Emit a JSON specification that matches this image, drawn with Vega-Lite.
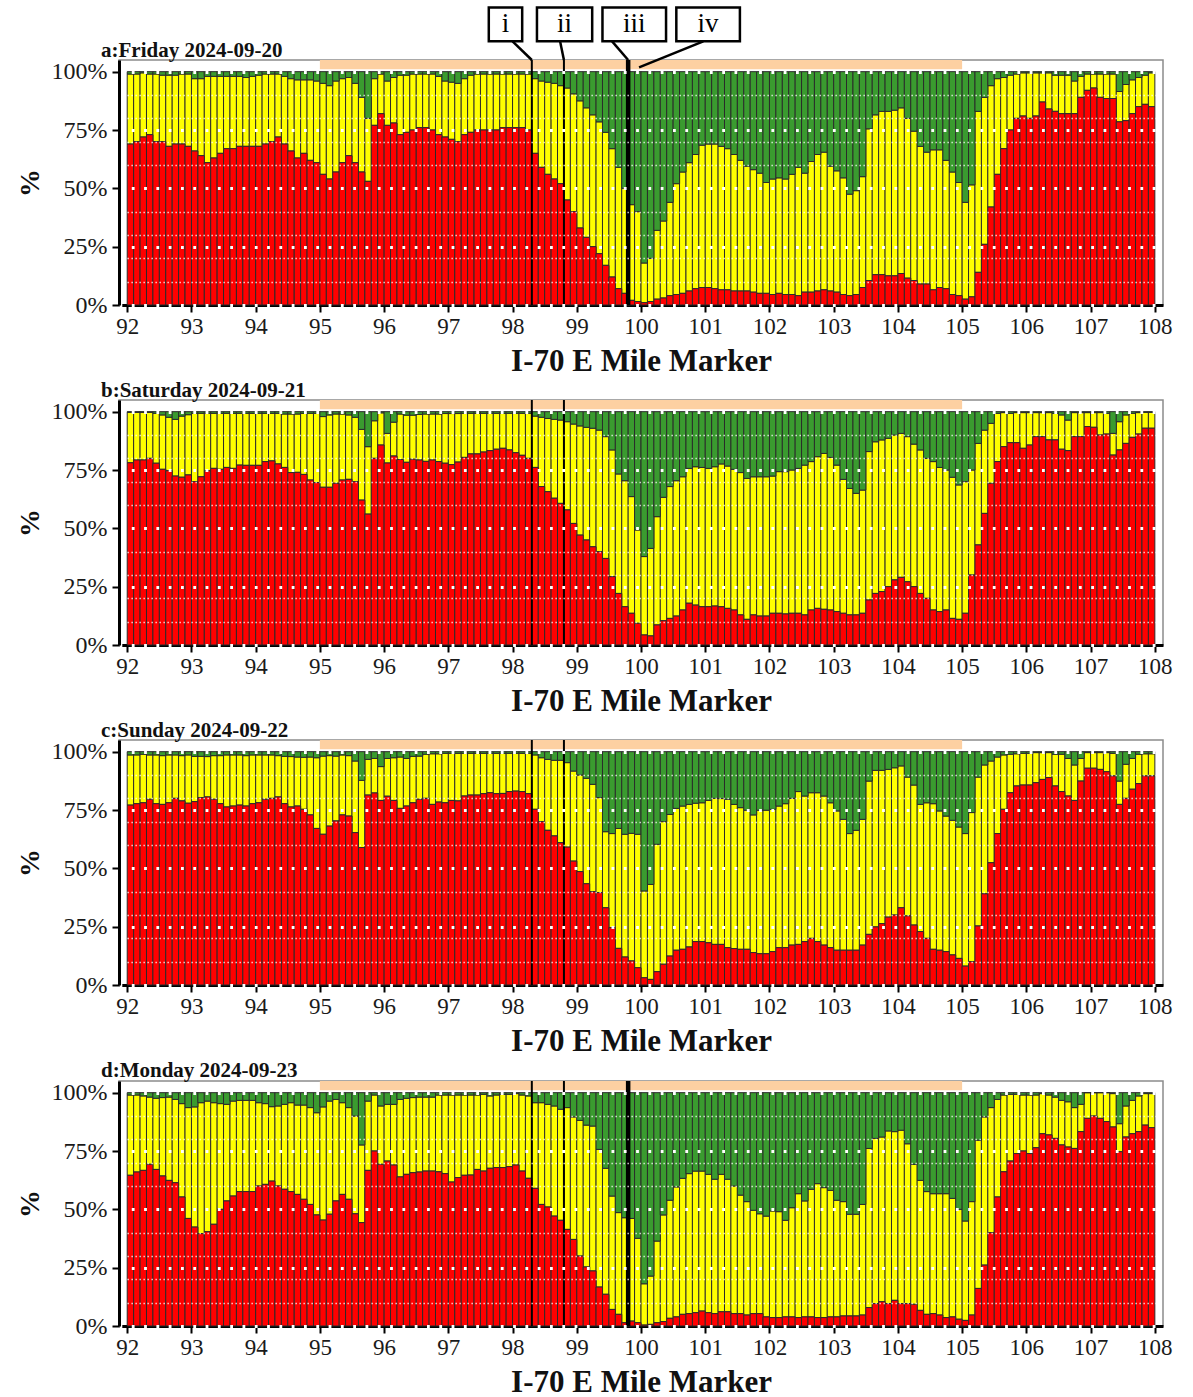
{
  "$schema": "https://vega.github.io/schema/vega-lite/v6.json",
  "padding": {"left": 15, "top": 5, "right": 5, "bottom": 0},
  "spacing": 2,
  "config": {
    "font": "Liberation Serif",
    "view": {"stroke": "#8c8c8c", "strokeWidth": 1.5},
    "axis": {
      "labelFont": "Liberation Serif", "labelColor": "#1a1a1a",
      "titleFont": "Liberation Serif", "titleFontWeight": "bold", "titleColor": "#111111",
      "domainColor": "#000000", "domainWidth": 3, "tickColor": "#000000", "tickWidth": 2, "tickSize": 7
    },
    "axisX": {"labelFontSize": 23, "labelPadding": 3, "titleFontSize": 31, "titlePadding": 8},
    "axisY": {"labelFontSize": 24, "labelPadding": 5, "titleFontSize": 28, "titlePadding": 7, "labelOverlap": false, "tickCount": 20},
    "title": {"anchor": "start", "frame": "group", "font": "Liberation Serif", "fontSize": 21, "fontWeight": "bold", "color": "#111111", "offset": -2, "dx": -18}
  },
  "datasets": {
    "zone": [{"start": 95, "end": 105}],
    "callouts": [
      {"label": "i", "left": 97.63, "right": 98.15, "mid": 97.89, "from": 98.0, "to": 98.3, "tip": 105},
      {"label": "ii", "left": 98.38, "right": 99.24, "mid": 98.81, "from": 98.74, "to": 98.8, "tip": 105},
      {"label": "iii", "left": 99.4, "right": 100.39, "mid": 99.895, "from": 99.55, "to": 99.8, "tip": 105},
      {"label": "iv", "left": 100.55, "right": 101.54, "mid": 101.045, "from": 100.97, "to": 99.97, "tip": 101.8}
    ],
    "fri": [
      {"m":92.0,"r":69,"ry":99},{"m":92.1,"r":70,"ry":99},{"m":92.2,"r":72,"ry":99.5},{"m":92.3,"r":73,"ry":99},{"m":92.4,"r":70,"ry":99},
      {"m":92.5,"r":70,"ry":98.5},{"m":92.6,"r":68,"ry":98.5},{"m":92.7,"r":69,"ry":98.5},{"m":92.8,"r":69,"ry":99},{"m":92.9,"r":68,"ry":99},
      {"m":93.0,"r":66,"ry":97},{"m":93.1,"r":64,"ry":97},{"m":93.2,"r":61,"ry":98},{"m":93.3,"r":63,"ry":98},{"m":93.4,"r":65,"ry":98},
      {"m":93.5,"r":67,"ry":98},{"m":93.6,"r":67,"ry":98},{"m":93.7,"r":68,"ry":98},{"m":93.8,"r":68,"ry":97.5},{"m":93.9,"r":68,"ry":98},
      {"m":94.0,"r":68,"ry":98.5},{"m":94.1,"r":69,"ry":99},{"m":94.2,"r":70,"ry":99},{"m":94.3,"r":72,"ry":99},{"m":94.4,"r":69,"ry":98},
      {"m":94.5,"r":66,"ry":97},{"m":94.6,"r":63,"ry":96.5},{"m":94.7,"r":65,"ry":96.5},{"m":94.8,"r":62,"ry":96.5},{"m":94.9,"r":61,"ry":96},
      {"m":95.0,"r":56,"ry":95},{"m":95.1,"r":54,"ry":94},{"m":95.2,"r":57,"ry":96},{"m":95.3,"r":61,"ry":97},{"m":95.4,"r":64,"ry":97.5},
      {"m":95.5,"r":61,"ry":95},{"m":95.6,"r":57,"ry":89},{"m":95.7,"r":53,"ry":80},{"m":95.8,"r":77,"ry":97},{"m":95.9,"r":82,"ry":99},
      {"m":96.0,"r":77,"ry":96},{"m":96.1,"r":78,"ry":97.5},{"m":96.2,"r":73,"ry":98.5},{"m":96.3,"r":74,"ry":98.5},{"m":96.4,"r":75,"ry":99},
      {"m":96.5,"r":76,"ry":99},{"m":96.6,"r":76,"ry":99},{"m":96.7,"r":75,"ry":99},{"m":96.8,"r":73,"ry":98},{"m":96.9,"r":72,"ry":96},
      {"m":97.0,"r":71,"ry":95.5},{"m":97.1,"r":70,"ry":95},{"m":97.2,"r":73,"ry":97},{"m":97.3,"r":74,"ry":98.5},{"m":97.4,"r":75,"ry":99},
      {"m":97.5,"r":75,"ry":99},{"m":97.6,"r":75,"ry":99},{"m":97.7,"r":75,"ry":99},{"m":97.8,"r":76,"ry":99},{"m":97.9,"r":76,"ry":99},
      {"m":98.0,"r":76,"ry":99},{"m":98.1,"r":76,"ry":99},{"m":98.2,"r":75,"ry":99},{"m":98.3,"r":65,"ry":97},{"m":98.4,"r":59,"ry":96},
      {"m":98.5,"r":56,"ry":95.5},{"m":98.6,"r":54,"ry":95},{"m":98.7,"r":52,"ry":94},{"m":98.8,"r":45,"ry":93},{"m":98.9,"r":40,"ry":90.5},
      {"m":99.0,"r":33,"ry":87.5},{"m":99.1,"r":29,"ry":84.5},{"m":99.2,"r":25,"ry":81.5},{"m":99.3,"r":22,"ry":78.5},{"m":99.4,"r":17,"ry":74},
      {"m":99.5,"r":12,"ry":67},{"m":99.6,"r":7,"ry":59},{"m":99.7,"r":5,"ry":50},{"m":99.8,"r":2,"ry":43},{"m":99.9,"r":1.5,"ry":40},
      {"m":100.0,"r":1,"ry":18},{"m":100.1,"r":1.5,"ry":20},{"m":100.2,"r":2.5,"ry":32},{"m":100.3,"r":3,"ry":36},{"m":100.4,"r":4,"ry":44},
      {"m":100.5,"r":4.5,"ry":52},{"m":100.6,"r":5,"ry":57},{"m":100.7,"r":6,"ry":61},{"m":100.8,"r":7,"ry":64.5},{"m":100.9,"r":7.5,"ry":68.5},
      {"m":101.0,"r":7.5,"ry":69},{"m":101.1,"r":7,"ry":69},{"m":101.2,"r":6.5,"ry":68},{"m":101.3,"r":6.5,"ry":67},{"m":101.4,"r":6,"ry":64.5},
      {"m":101.5,"r":6,"ry":62},{"m":101.6,"r":6,"ry":59.5},{"m":101.7,"r":5.5,"ry":58},{"m":101.8,"r":5,"ry":56.5},{"m":101.9,"r":5,"ry":52.5},
      {"m":102.0,"r":4.5,"ry":54},{"m":102.1,"r":5,"ry":54.5},{"m":102.2,"r":4.5,"ry":54},{"m":102.3,"r":4.5,"ry":56},{"m":102.4,"r":4,"ry":59},
      {"m":102.5,"r":5.5,"ry":56.5},{"m":102.6,"r":5.5,"ry":61.5},{"m":102.7,"r":6,"ry":64.5},{"m":102.8,"r":6.5,"ry":65.5},{"m":102.9,"r":6,"ry":59.5},
      {"m":103.0,"r":5.5,"ry":57.5},{"m":103.1,"r":4.5,"ry":54.5},{"m":103.2,"r":4,"ry":47.5},{"m":103.3,"r":4.5,"ry":49},{"m":103.4,"r":7.5,"ry":55},
      {"m":103.5,"r":10.5,"ry":75.5},{"m":103.6,"r":13,"ry":81.5},{"m":103.7,"r":13,"ry":83},{"m":103.8,"r":12.5,"ry":83},{"m":103.9,"r":12.5,"ry":83.5},
      {"m":104.0,"r":13.5,"ry":84.5},{"m":104.1,"r":11.5,"ry":80},{"m":104.2,"r":10.5,"ry":74.5},{"m":104.3,"r":9,"ry":68},{"m":104.4,"r":9,"ry":65.5},
      {"m":104.5,"r":6.5,"ry":66.5},{"m":104.6,"r":7.5,"ry":66.5},{"m":104.7,"r":7,"ry":62},{"m":104.8,"r":4.5,"ry":57},{"m":104.9,"r":4,"ry":52.5},
      {"m":105.0,"r":2.5,"ry":44},{"m":105.1,"r":3.5,"ry":51.5},{"m":105.2,"r":14,"ry":83},{"m":105.3,"r":26,"ry":89},{"m":105.4,"r":42,"ry":94},
      {"m":105.5,"r":56,"ry":97},{"m":105.6,"r":67,"ry":97.5},{"m":105.7,"r":75,"ry":98.5},{"m":105.8,"r":80,"ry":99},{"m":105.9,"r":81,"ry":99.5},
      {"m":106.0,"r":80,"ry":99.5},{"m":106.1,"r":81,"ry":99.5},{"m":106.2,"r":87,"ry":99.5},{"m":106.3,"r":84,"ry":99.5},{"m":106.4,"r":83,"ry":98.5},
      {"m":106.5,"r":82,"ry":98.5},{"m":106.6,"r":82,"ry":98.5},{"m":106.7,"r":82,"ry":96},{"m":106.8,"r":89,"ry":98},{"m":106.9,"r":92,"ry":99},
      {"m":107.0,"r":93,"ry":99},{"m":107.1,"r":89,"ry":99},{"m":107.2,"r":88.5,"ry":99},{"m":107.3,"r":88.5,"ry":99},{"m":107.4,"r":78.5,"ry":91.5},
      {"m":107.5,"r":79,"ry":94.5},{"m":107.6,"r":82,"ry":96.5},{"m":107.7,"r":85,"ry":97.5},{"m":107.8,"r":86,"ry":98.5},{"m":107.9,"r":85,"ry":99.5}
    ],
    "sat": [
      {"m":92.0,"r":78.1,"ry":99.7},{"m":92.1,"r":79.3,"ry":99.7},{"m":92.2,"r":79.3,"ry":99.7},{"m":92.3,"r":80,"ry":99.7},{"m":92.4,"r":77.9,"ry":99.3},
      {"m":92.5,"r":75.3,"ry":98.6},{"m":92.6,"r":74.7,"ry":97.6},{"m":92.7,"r":72.4,"ry":96.7},{"m":92.8,"r":71.9,"ry":98.1},{"m":92.9,"r":72.9,"ry":98.7},
      {"m":93.0,"r":70,"ry":99.3},{"m":93.1,"r":72.1,"ry":99.3},{"m":93.2,"r":74.7,"ry":99.3},{"m":93.3,"r":75.7,"ry":99.3},{"m":93.4,"r":75.3,"ry":99.3},
      {"m":93.5,"r":76.1,"ry":99.3},{"m":93.6,"r":75.7,"ry":99.3},{"m":93.7,"r":77.1,"ry":99.3},{"m":93.8,"r":77,"ry":99.3},{"m":93.9,"r":77,"ry":99.3},
      {"m":94.0,"r":77,"ry":99.3},{"m":94.1,"r":78.6,"ry":99.3},{"m":94.2,"r":78.9,"ry":99.3},{"m":94.3,"r":77.6,"ry":99.3},{"m":94.4,"r":76.1,"ry":99},
      {"m":94.5,"r":73.9,"ry":99},{"m":94.6,"r":74,"ry":99},{"m":94.7,"r":73.1,"ry":99.3},{"m":94.8,"r":70.7,"ry":99.3},{"m":94.9,"r":69.6,"ry":99.3},
      {"m":95.0,"r":67.6,"ry":97.9},{"m":95.1,"r":67.6,"ry":98.6},{"m":95.2,"r":69.3,"ry":99},{"m":95.3,"r":70.7,"ry":99},{"m":95.4,"r":71,"ry":98.6},
      {"m":95.5,"r":70,"ry":97.6},{"m":95.6,"r":62.1,"ry":92.4},{"m":95.7,"r":56.1,"ry":85},{"m":95.8,"r":80,"ry":96.1},{"m":95.9,"r":85.7,"ry":99.5},
      {"m":96.0,"r":78,"ry":90.7},{"m":96.1,"r":81,"ry":95.5},{"m":96.2,"r":79.5,"ry":99},{"m":96.3,"r":78.3,"ry":98.5},{"m":96.4,"r":79.6,"ry":98.5},
      {"m":96.5,"r":79.3,"ry":98.8},{"m":96.6,"r":78.7,"ry":99},{"m":96.7,"r":79.3,"ry":99},{"m":96.8,"r":78.6,"ry":99},{"m":96.9,"r":77.9,"ry":99.2},
      {"m":97.0,"r":77.3,"ry":99.2},{"m":97.1,"r":78.4,"ry":99.2},{"m":97.2,"r":80.4,"ry":99.3},{"m":97.3,"r":81.9,"ry":99.3},{"m":97.4,"r":81.9,"ry":99.3},
      {"m":97.5,"r":82.7,"ry":99.3},{"m":97.6,"r":83.3,"ry":99.3},{"m":97.7,"r":83.9,"ry":99.3},{"m":97.8,"r":84.3,"ry":99.3},{"m":97.9,"r":83.6,"ry":99.3},
      {"m":98.0,"r":82.4,"ry":99.3},{"m":98.1,"r":81.3,"ry":99.3},{"m":98.2,"r":80,"ry":99.3},{"m":98.3,"r":76.1,"ry":98.1},{"m":98.4,"r":67.9,"ry":97.6},
      {"m":98.5,"r":65.7,"ry":97.1},{"m":98.6,"r":62.9,"ry":96.7},{"m":98.7,"r":60.7,"ry":96.4},{"m":98.8,"r":57.9,"ry":95.7},{"m":98.9,"r":52.1,"ry":94.7},
      {"m":99.0,"r":47.1,"ry":93.9},{"m":99.1,"r":45,"ry":93.3},{"m":99.2,"r":42.1,"ry":92.9},{"m":99.3,"r":40,"ry":92.1},{"m":99.4,"r":37.1,"ry":89.3},
      {"m":99.5,"r":29.3,"ry":83.6},{"m":99.6,"r":22.1,"ry":73.3},{"m":99.7,"r":16.4,"ry":70.4},{"m":99.8,"r":13.6,"ry":63.6},{"m":99.9,"r":9.3,"ry":49.3},
      {"m":100.0,"r":4.3,"ry":37.9},{"m":100.1,"r":3.9,"ry":41.4},{"m":100.2,"r":8.6,"ry":55},{"m":100.3,"r":10.4,"ry":63.3},{"m":100.4,"r":11.4,"ry":67.9},
      {"m":100.5,"r":12.4,"ry":70.4},{"m":100.6,"r":15,"ry":72.1},{"m":100.7,"r":17.9,"ry":75.7},{"m":100.8,"r":17.1,"ry":76.4},{"m":100.9,"r":16.4,"ry":76.1},
      {"m":101.0,"r":16.4,"ry":75.7},{"m":101.1,"r":16.7,"ry":76.4},{"m":101.2,"r":16.4,"ry":77.6},{"m":101.3,"r":15.7,"ry":76.7},{"m":101.4,"r":15,"ry":75.3},
      {"m":101.5,"r":12.9,"ry":73.9},{"m":101.6,"r":11,"ry":71.4},{"m":101.7,"r":12.9,"ry":72.1},{"m":101.8,"r":12.4,"ry":72.1},{"m":101.9,"r":12.4,"ry":72.1},
      {"m":102.0,"r":13.6,"ry":72.4},{"m":102.1,"r":13.6,"ry":74.3},{"m":102.2,"r":13.3,"ry":74.3},{"m":102.3,"r":13.6,"ry":75},{"m":102.4,"r":13.6,"ry":75.7},
      {"m":102.5,"r":12.9,"ry":77.1},{"m":102.6,"r":15,"ry":78.6},{"m":102.7,"r":15.7,"ry":80.7},{"m":102.8,"r":15.3,"ry":82.1},{"m":102.9,"r":15,"ry":80.4},
      {"m":103.0,"r":14.3,"ry":77.1},{"m":103.1,"r":13.6,"ry":71},{"m":103.2,"r":12.9,"ry":67.1},{"m":103.3,"r":12.9,"ry":65},{"m":103.4,"r":13.6,"ry":66.4},
      {"m":103.5,"r":19.3,"ry":82.9},{"m":103.6,"r":22.1,"ry":87.1},{"m":103.7,"r":22.9,"ry":87.9},{"m":103.8,"r":25,"ry":88.6},{"m":103.9,"r":27.9,"ry":90},
      {"m":104.0,"r":29,"ry":90.7},{"m":104.1,"r":27.1,"ry":89.3},{"m":104.2,"r":25,"ry":86.1},{"m":104.3,"r":22.1,"ry":83.6},{"m":104.4,"r":20,"ry":80},
      {"m":104.5,"r":15,"ry":78.6},{"m":104.6,"r":14.3,"ry":76.1},{"m":104.7,"r":15,"ry":75},{"m":104.8,"r":11.4,"ry":71.9},{"m":104.9,"r":11,"ry":68.6},
      {"m":105.0,"r":13.6,"ry":70},{"m":105.1,"r":30,"ry":75},{"m":105.2,"r":42.9,"ry":86.4},{"m":105.3,"r":56.4,"ry":92.1},{"m":105.4,"r":69.3,"ry":95},
      {"m":105.5,"r":78.6,"ry":99.3},{"m":105.6,"r":85,"ry":99.6},{"m":105.7,"r":86.7,"ry":99.3},{"m":105.8,"r":86.7,"ry":99.6},{"m":105.9,"r":84.3,"ry":99.6},
      {"m":106.0,"r":85.7,"ry":99.6},{"m":106.1,"r":89.3,"ry":99.6},{"m":106.2,"r":89.3,"ry":99.6},{"m":106.3,"r":87.9,"ry":99.6},{"m":106.4,"r":87.9,"ry":99.3},
      {"m":106.5,"r":83.9,"ry":98.6},{"m":106.6,"r":83.3,"ry":96.4},{"m":106.7,"r":89.3,"ry":99.6},{"m":106.8,"r":89.3,"ry":99.6},{"m":106.9,"r":93.6,"ry":99.6},
      {"m":107.0,"r":93.3,"ry":99.6},{"m":107.1,"r":90,"ry":99.6},{"m":107.2,"r":90.4,"ry":99.3},{"m":107.3,"r":81.4,"ry":90.7},{"m":107.4,"r":83.6,"ry":95.7},
      {"m":107.5,"r":86.4,"ry":98.6},{"m":107.6,"r":89,"ry":99.3},{"m":107.7,"r":90.4,"ry":99.6},{"m":107.8,"r":92.9,"ry":99.7},{"m":107.9,"r":92.9,"ry":99.7}
    ],
    "sun": [
      {"m":92.0,"r":77.1,"ry":98.6},{"m":92.1,"r":77.7,"ry":98.6},{"m":92.2,"r":78.1,"ry":98.9},{"m":92.3,"r":79.6,"ry":98.6},{"m":92.4,"r":77.7,"ry":98.6},
      {"m":92.5,"r":77.4,"ry":98.3},{"m":92.6,"r":78.1,"ry":98.6},{"m":92.7,"r":80,"ry":98.6},{"m":92.8,"r":78.9,"ry":98.3},{"m":92.9,"r":77.9,"ry":98.6},
      {"m":93.0,"r":78.6,"ry":98},{"m":93.1,"r":80.3,"ry":98},{"m":93.2,"r":80.6,"ry":97.9},{"m":93.3,"r":79.6,"ry":98.3},{"m":93.4,"r":77.7,"ry":98.3},
      {"m":93.5,"r":76.3,"ry":98.6},{"m":93.6,"r":76.7,"ry":98.6},{"m":93.7,"r":77.1,"ry":98.6},{"m":93.8,"r":76.7,"ry":98.3},{"m":93.9,"r":77.7,"ry":98.6},
      {"m":94.0,"r":78.1,"ry":98.6},{"m":94.1,"r":79.6,"ry":98.6},{"m":94.2,"r":80,"ry":98.6},{"m":94.3,"r":80.6,"ry":98.3},{"m":94.4,"r":77.7,"ry":98},
      {"m":94.5,"r":76.3,"ry":97.9},{"m":94.6,"r":76.7,"ry":97.7},{"m":94.7,"r":75.3,"ry":97.6},{"m":94.8,"r":72.9,"ry":97.7},{"m":94.9,"r":67.1,"ry":97.4},
      {"m":95.0,"r":64.6,"ry":98.1},{"m":95.1,"r":68.1,"ry":98.3},{"m":95.2,"r":70.3,"ry":98.1},{"m":95.3,"r":72.9,"ry":98.6},{"m":95.4,"r":72.4,"ry":98.3},
      {"m":95.5,"r":65.3,"ry":96},{"m":95.6,"r":58.9,"ry":87.7},{"m":95.7,"r":81.4,"ry":96.7},{"m":95.8,"r":82.3,"ry":97.1},{"m":95.9,"r":79.1,"ry":93.6},
      {"m":96.0,"r":80.9,"ry":97.1},{"m":96.1,"r":79.1,"ry":97.4},{"m":96.2,"r":75.7,"ry":97.7},{"m":96.3,"r":76.7,"ry":97.1},{"m":96.4,"r":78.1,"ry":98},
      {"m":96.5,"r":79.6,"ry":98.1},{"m":96.6,"r":80,"ry":98.9},{"m":96.7,"r":77.4,"ry":99.1},{"m":96.8,"r":78.4,"ry":99.1},{"m":96.9,"r":78.1,"ry":99.3},
      {"m":97.0,"r":79.1,"ry":99.3},{"m":97.1,"r":78.9,"ry":99.3},{"m":97.2,"r":81,"ry":99.3},{"m":97.3,"r":81.4,"ry":99.3},{"m":97.4,"r":81.4,"ry":99.3},
      {"m":97.5,"r":82,"ry":99.3},{"m":97.6,"r":82.4,"ry":99.3},{"m":97.7,"r":82,"ry":99.3},{"m":97.8,"r":82.1,"ry":99.3},{"m":97.9,"r":82.9,"ry":99.3},
      {"m":98.0,"r":83.1,"ry":99.3},{"m":98.1,"r":82.9,"ry":99.3},{"m":98.2,"r":82,"ry":99.3},{"m":98.3,"r":75.3,"ry":98.6},{"m":98.4,"r":70,"ry":97.4},
      {"m":98.5,"r":66.3,"ry":96.7},{"m":98.6,"r":63.9,"ry":96.3},{"m":98.7,"r":61,"ry":96.3},{"m":98.8,"r":59.1,"ry":95.3},{"m":98.9,"r":53.1,"ry":91.7},
      {"m":99.0,"r":48.6,"ry":90},{"m":99.1,"r":43.4,"ry":88.6},{"m":99.2,"r":40,"ry":86},{"m":99.3,"r":39.6,"ry":80.3},{"m":99.4,"r":33.1,"ry":65.7},
      {"m":99.5,"r":24.6,"ry":64.9},{"m":99.6,"r":15.7,"ry":67.1},{"m":99.7,"r":12,"ry":64.6},{"m":99.8,"r":10.3,"ry":65},{"m":99.9,"r":7.4,"ry":64.6},
      {"m":100.0,"r":3.1,"ry":40.3},{"m":100.1,"r":2.4,"ry":43.1},{"m":100.2,"r":5.7,"ry":60.3},{"m":100.3,"r":8.9,"ry":70},{"m":100.4,"r":12.4,"ry":73.1},
      {"m":100.5,"r":14.9,"ry":75.7},{"m":100.6,"r":15.3,"ry":76.7},{"m":100.7,"r":16.3,"ry":77.4},{"m":100.8,"r":18.6,"ry":77.9},{"m":100.9,"r":18.6,"ry":78.1},
      {"m":101.0,"r":18.1,"ry":79.1},{"m":101.1,"r":17.4,"ry":80},{"m":101.2,"r":17.4,"ry":79.9},{"m":101.3,"r":16,"ry":79.6},{"m":101.4,"r":15.6,"ry":77.4},
      {"m":101.5,"r":15.3,"ry":76},{"m":101.6,"r":15.3,"ry":74.9},{"m":101.7,"r":13.9,"ry":72.9},{"m":101.8,"r":13.4,"ry":74.9},{"m":101.9,"r":13.4,"ry":74.9},
      {"m":102.0,"r":14.3,"ry":75.3},{"m":102.1,"r":16,"ry":76.7},{"m":102.2,"r":16,"ry":77.7},{"m":102.3,"r":17.1,"ry":80},{"m":102.4,"r":17.4,"ry":82.9},
      {"m":102.5,"r":18.6,"ry":81},{"m":102.6,"r":20,"ry":82.4},{"m":102.7,"r":18.6,"ry":82.4},{"m":102.8,"r":17.1,"ry":81},{"m":102.9,"r":16,"ry":78.1},
      {"m":103.0,"r":14.9,"ry":74.6},{"m":103.1,"r":14.9,"ry":71},{"m":103.2,"r":14.9,"ry":64.9},{"m":103.3,"r":14.9,"ry":66.3},{"m":103.4,"r":17.1,"ry":71},
      {"m":103.5,"r":21.7,"ry":87.4},{"m":103.6,"r":24.9,"ry":92},{"m":103.7,"r":26.3,"ry":92},{"m":103.8,"r":29.1,"ry":92.4},{"m":103.9,"r":30,"ry":93.1},
      {"m":104.0,"r":33.1,"ry":93.9},{"m":104.1,"r":29.6,"ry":89.1},{"m":104.2,"r":25.7,"ry":85.7},{"m":104.3,"r":22.9,"ry":77.4},{"m":104.4,"r":20,"ry":78.1},
      {"m":104.5,"r":15.3,"ry":77.7},{"m":104.6,"r":14.9,"ry":74.6},{"m":104.7,"r":14.3,"ry":72.4},{"m":104.8,"r":12.9,"ry":70.6},{"m":104.9,"r":11.4,"ry":67.7},
      {"m":105.0,"r":8.1,"ry":64.9},{"m":105.1,"r":10,"ry":73.9},{"m":105.2,"r":25.3,"ry":89.1},{"m":105.3,"r":39.1,"ry":94.3},{"m":105.4,"r":52.4,"ry":96},
      {"m":105.5,"r":64.9,"ry":97.7},{"m":105.6,"r":75.3,"ry":98.6},{"m":105.7,"r":82.4,"ry":98.9},{"m":105.8,"r":85.3,"ry":99.1},{"m":105.9,"r":85.7,"ry":99.3},
      {"m":106.0,"r":85.7,"ry":99.3},{"m":106.1,"r":86.7,"ry":99.6},{"m":106.2,"r":88.1,"ry":99.6},{"m":106.3,"r":88.9,"ry":99.6},{"m":106.4,"r":85.3,"ry":98.9},
      {"m":106.5,"r":82.9,"ry":98.9},{"m":106.6,"r":81,"ry":97.1},{"m":106.7,"r":79.1,"ry":94.3},{"m":106.8,"r":87.4,"ry":97.1},{"m":106.9,"r":92.9,"ry":99.6},
      {"m":107.0,"r":92.9,"ry":99.6},{"m":107.1,"r":92.4,"ry":99.6},{"m":107.2,"r":91.4,"ry":99.6},{"m":107.3,"r":89.6,"ry":99.3},{"m":107.4,"r":77.4,"ry":87.4},
      {"m":107.5,"r":80,"ry":94.6},{"m":107.6,"r":83.9,"ry":97.1},{"m":107.7,"r":86.3,"ry":98.9},{"m":107.8,"r":89.6,"ry":99.1},{"m":107.9,"r":89.6,"ry":99.1}
    ],
    "mon": [
      {"m":92.0,"r":64.6,"ry":99},{"m":92.1,"r":66,"ry":99},{"m":92.2,"r":66.7,"ry":98.6},{"m":92.3,"r":69.3,"ry":98.1},{"m":92.4,"r":67.1,"ry":97.6},
      {"m":92.5,"r":64.3,"ry":97.9},{"m":92.6,"r":62.4,"ry":98.1},{"m":92.7,"r":61.4,"ry":97.1},{"m":92.8,"r":55.3,"ry":95.3},{"m":92.9,"r":46.1,"ry":93.6},
      {"m":93.0,"r":42.4,"ry":93.9},{"m":93.1,"r":39.6,"ry":95.7},{"m":93.2,"r":40.4,"ry":96.4},{"m":93.3,"r":43.6,"ry":95.7},{"m":93.4,"r":50,"ry":95.3},
      {"m":93.5,"r":53.6,"ry":95},{"m":93.6,"r":55.7,"ry":96.4},{"m":93.7,"r":57.6,"ry":96.7},{"m":93.8,"r":57.6,"ry":96.7},{"m":93.9,"r":57.6,"ry":96.7},
      {"m":94.0,"r":60,"ry":95.7},{"m":94.1,"r":60.7,"ry":95.3},{"m":94.2,"r":62.1,"ry":94},{"m":94.3,"r":60,"ry":94.3},{"m":94.4,"r":58.6,"ry":95},
      {"m":94.5,"r":57.6,"ry":95.7},{"m":94.6,"r":56.4,"ry":94.7},{"m":94.7,"r":54.3,"ry":94.7},{"m":94.8,"r":52.1,"ry":93.6},{"m":94.9,"r":47.6,"ry":91.4},
      {"m":95.0,"r":45.4,"ry":93.9},{"m":95.1,"r":47.9,"ry":96.4},{"m":95.2,"r":53.6,"ry":97.1},{"m":95.3,"r":56.4,"ry":95.7},{"m":95.4,"r":54.3,"ry":93.6},
      {"m":95.5,"r":48.1,"ry":90},{"m":95.6,"r":44.3,"ry":77.6},{"m":95.7,"r":66.7,"ry":96.4},{"m":95.8,"r":75,"ry":99},{"m":95.9,"r":69.3,"ry":94.3},
      {"m":96.0,"r":70.7,"ry":95},{"m":96.1,"r":69,"ry":95},{"m":96.2,"r":63.9,"ry":97.1},{"m":96.3,"r":65,"ry":97.6},{"m":96.4,"r":65.7,"ry":97.9},
      {"m":96.5,"r":66,"ry":98.1},{"m":96.6,"r":66.4,"ry":98.1},{"m":96.7,"r":66.4,"ry":98.1},{"m":96.8,"r":66.1,"ry":99},{"m":96.9,"r":65.3,"ry":99},
      {"m":97.0,"r":61.7,"ry":99},{"m":97.1,"r":63.6,"ry":99},{"m":97.2,"r":64.6,"ry":99},{"m":97.3,"r":64.7,"ry":99},{"m":97.4,"r":67.1,"ry":99},
      {"m":97.5,"r":66.4,"ry":99.3},{"m":97.6,"r":67.6,"ry":98.6},{"m":97.7,"r":67.9,"ry":99},{"m":97.8,"r":67.9,"ry":99.3},{"m":97.9,"r":68.3,"ry":99.3},
      {"m":98.0,"r":69,"ry":99.6},{"m":98.1,"r":66.4,"ry":99},{"m":98.2,"r":63.3,"ry":98.6},{"m":98.3,"r":59,"ry":95.7},{"m":98.4,"r":52.1,"ry":95.7},
      {"m":98.5,"r":51,"ry":95},{"m":98.6,"r":47.1,"ry":94.3},{"m":98.7,"r":45.3,"ry":92.9},{"m":98.8,"r":41.4,"ry":93.6},{"m":98.9,"r":37.1,"ry":89.6},
      {"m":99.0,"r":30,"ry":88.1},{"m":99.1,"r":25.3,"ry":86.1},{"m":99.2,"r":23.6,"ry":85.7},{"m":99.3,"r":16.7,"ry":75.7},{"m":99.4,"r":13.6,"ry":67.6},
      {"m":99.5,"r":7.1,"ry":55.7},{"m":99.6,"r":5,"ry":48.6},{"m":99.7,"r":1.4,"ry":46.4},{"m":99.8,"r":2.1,"ry":46.1},{"m":99.9,"r":1.4,"ry":37.6},
      {"m":100.0,"r":0.4,"ry":18.1},{"m":100.1,"r":0.7,"ry":21.4},{"m":100.2,"r":1.4,"ry":36.4},{"m":100.3,"r":1.9,"ry":47.6},{"m":100.4,"r":3.3,"ry":53.9},
      {"m":100.5,"r":3.9,"ry":59.6},{"m":100.6,"r":5,"ry":63.3},{"m":100.7,"r":5.3,"ry":65.3},{"m":100.8,"r":5.7,"ry":66.4},{"m":100.9,"r":6.4,"ry":66.4},
      {"m":101.0,"r":5.7,"ry":65},{"m":101.1,"r":5.3,"ry":62.9},{"m":101.2,"r":6.1,"ry":65},{"m":101.3,"r":6.1,"ry":62.9},{"m":101.4,"r":5.3,"ry":60},
      {"m":101.5,"r":5.3,"ry":56.1},{"m":101.6,"r":4.7,"ry":53.3},{"m":101.7,"r":5.3,"ry":49.6},{"m":101.8,"r":5.3,"ry":48.1},{"m":101.9,"r":3.9,"ry":47.1},
      {"m":102.0,"r":3.6,"ry":49.3},{"m":102.1,"r":3.6,"ry":49},{"m":102.2,"r":3.9,"ry":45.3},{"m":102.3,"r":3.9,"ry":50.7},{"m":102.4,"r":3.6,"ry":56.7},
      {"m":102.5,"r":3.9,"ry":53.6},{"m":102.6,"r":3.9,"ry":58.6},{"m":102.7,"r":3.6,"ry":61},{"m":102.8,"r":3.6,"ry":59.3},{"m":102.9,"r":3.9,"ry":58.1},
      {"m":103.0,"r":3.9,"ry":53.9},{"m":103.1,"r":4.3,"ry":53.3},{"m":103.2,"r":4.3,"ry":47.9},{"m":103.3,"r":4.3,"ry":47.9},{"m":103.4,"r":4.7,"ry":52.1},
      {"m":103.5,"r":7.9,"ry":76.1},{"m":103.6,"r":9.6,"ry":80.4},{"m":103.7,"r":10.4,"ry":81},{"m":103.8,"r":9.6,"ry":83.6},{"m":103.9,"r":11,"ry":83.3},
      {"m":104.0,"r":9.6,"ry":83.9},{"m":104.1,"r":9.6,"ry":78.1},{"m":104.2,"r":9.3,"ry":69.3},{"m":104.3,"r":6.7,"ry":62.4},{"m":104.4,"r":5,"ry":57.6},
      {"m":104.5,"r":5.3,"ry":56.7},{"m":104.6,"r":4.7,"ry":56.7},{"m":104.7,"r":3.6,"ry":56.7},{"m":104.8,"r":3.9,"ry":54.7},{"m":104.9,"r":2.9,"ry":50},
      {"m":105.0,"r":2.4,"ry":45},{"m":105.1,"r":4.7,"ry":53.3},{"m":105.2,"r":16.1,"ry":79.6},{"m":105.3,"r":26.1,"ry":89.6},{"m":105.4,"r":40,"ry":93.6},
      {"m":105.5,"r":55.3,"ry":97.1},{"m":105.6,"r":66.1,"ry":99},{"m":105.7,"r":70.7,"ry":99.3},{"m":105.8,"r":73.9,"ry":99.3},{"m":105.9,"r":75,"ry":99},
      {"m":106.0,"r":73.9,"ry":99},{"m":106.1,"r":76.4,"ry":99},{"m":106.2,"r":82.4,"ry":99.6},{"m":106.3,"r":81.9,"ry":99},{"m":106.4,"r":80.4,"ry":98.1},
      {"m":106.5,"r":77.6,"ry":96.7},{"m":106.6,"r":76.7,"ry":96.1},{"m":106.7,"r":76.1,"ry":93.6},{"m":106.8,"r":83.3,"ry":95},{"m":106.9,"r":89,"ry":100},
      {"m":107.0,"r":90,"ry":100},{"m":107.1,"r":89,"ry":100},{"m":107.2,"r":87.6,"ry":100},{"m":107.3,"r":85.3,"ry":99.6},{"m":107.4,"r":74.7,"ry":86.7},
      {"m":107.5,"r":81,"ry":94.3},{"m":107.6,"r":82.4,"ry":96.7},{"m":107.7,"r":83.3,"ry":98.6},{"m":107.8,"r":86.1,"ry":99.6},{"m":107.9,"r":85,"ry":99.6}
    ]
  },
  "vconcat": [
    {
      "title": {"text": "a:Friday 2024-09-20", "offset": -55},
      "width": 1044, "height": 245,
      "layer": [
        {"data": {"name": "fri"}, "mark": {"type": "bar", "fill": "#ffff00", "stroke": "#2b2b2b", "strokeWidth": 1, "size": 6.49, "xOffset": 3.245},
         "encoding": {
           "x": {"field": "m", "type": "quantitative",
                 "scale": {"domain": [91.95, 108.05], "nice": false, "zero": false},
                 "axis": {"title": "I-70 E Mile Marker", "values": [92,93,94,95,96,97,98,99,100,101,102,103,104,105,106,107,108], "format": "d", "labelFlush": false, "labelOverlap": false, "grid": false}},
           "y": {"field": "r", "type": "quantitative",
                 "scale": {"domain": [0, 105], "nice": false},
                 "axis": {"title": "%", "values": [0,10,20,25,30,40,50,60,70,75,80,90,100],
                          "labelExpr": "datum.value % 25 === 0 ? datum.value + '%' : ''",
                          "tickOpacity": {"condition": {"test": "datum.value % 25 === 0", "value": 1}, "value": 0},
                          "grid": true, "gridColor": "#ffffff",
                          "gridDash": {"condition": {"test": "datum.value % 25 === 0", "value": [2.8, 9.5]}, "value": [1.3, 2.7]},
                          "gridWidth": {"condition": {"test": "datum.value % 25 === 0", "value": 2.8}, "value": 1.3},
                          "gridOpacity": {"condition": {"test": "datum.value % 25 === 0", "value": 1}, "value": 0.9},
                          "zindex": 1}},
           "y2": {"field": "ry"}}},
        {"data": {"name": "fri"}, "mark": {"type": "bar", "fill": "#ff0000", "stroke": "#2b2b2b", "strokeWidth": 1, "size": 6.49, "xOffset": 3.245},
         "encoding": {"x": {"field": "m", "type": "quantitative"}, "y": {"field": "r", "type": "quantitative"}, "y2": {"datum": 0}}},
        {"data": {"name": "fri"}, "mark": {"type": "bar", "fill": "#3a9b2f", "stroke": "#2b2b2b", "strokeWidth": 1, "size": 6.49, "xOffset": 3.245},
         "encoding": {"x": {"field": "m", "type": "quantitative"}, "y": {"field": "ry", "type": "quantitative"}, "y2": {"datum": 100}}},
        {"data": {"name": "zone"}, "mark": {"type": "rect", "fill": "#fdd0a2"},
         "encoding": {"x": {"field": "start", "type": "quantitative"}, "x2": {"field": "end"}, "y": {"datum": 101, "type": "quantitative"}, "y2": {"datum": 105}}},
        {"data": {"values": [{"mile": 98.3}, {"mile": 98.8}]}, "mark": {"type": "rule", "color": "#000000", "strokeWidth": 2},
         "encoding": {"x": {"field": "mile", "type": "quantitative"}, "y": {"datum": 0, "type": "quantitative"}, "y2": {"datum": 105}}},
        {"data": {"values": [{"mile": 99.8}]}, "mark": {"type": "rule", "color": "#000000", "strokeWidth": 4.5},
         "encoding": {"x": {"field": "mile", "type": "quantitative"}, "y": {"datum": 0, "type": "quantitative"}, "y2": {"datum": 105}}},
        {"data": {"name": "callouts"}, "mark": {"type": "rule", "color": "#000000", "strokeWidth": 2.5},
         "encoding": {"x": {"field": "to", "type": "quantitative"}, "x2": {"field": "from"}, "y": {"field": "tip", "type": "quantitative"}, "y2": {"datum": 113}}},
        {"data": {"name": "callouts"}, "mark": {"type": "rect", "fill": "#ffffff", "stroke": "#000000", "strokeWidth": 2.5},
         "encoding": {"x": {"field": "left", "type": "quantitative"}, "x2": {"field": "right"}, "y": {"datum": 113, "type": "quantitative"}, "y2": {"datum": 127.5}}},
        {"data": {"name": "callouts"}, "mark": {"type": "text", "font": "Liberation Serif", "fontSize": 27, "align": "center", "baseline": "middle", "color": "#000000"},
         "encoding": {"x": {"field": "mid", "type": "quantitative"}, "y": {"datum": 120.5, "type": "quantitative"}, "text": {"field": "label", "type": "nominal"}}}
      ]
    },
    {
      "title": {"text": "b:Saturday 2024-09-21"},
      "width": 1044, "height": 245,
      "layer": [
        {"data": {"name": "sat"}, "mark": {"type": "bar", "fill": "#ffff00", "stroke": "#2b2b2b", "strokeWidth": 1, "size": 6.49, "xOffset": 3.245},
         "encoding": {
           "x": {"field": "m", "type": "quantitative",
                 "scale": {"domain": [91.95, 108.05], "nice": false, "zero": false},
                 "axis": {"title": "I-70 E Mile Marker", "values": [92,93,94,95,96,97,98,99,100,101,102,103,104,105,106,107,108], "format": "d", "labelFlush": false, "labelOverlap": false, "grid": false}},
           "y": {"field": "r", "type": "quantitative",
                 "scale": {"domain": [0, 105], "nice": false},
                 "axis": {"title": "%", "values": [0,10,20,25,30,40,50,60,70,75,80,90,100],
                          "labelExpr": "datum.value % 25 === 0 ? datum.value + '%' : ''",
                          "tickOpacity": {"condition": {"test": "datum.value % 25 === 0", "value": 1}, "value": 0},
                          "grid": true, "gridColor": "#ffffff",
                          "gridDash": {"condition": {"test": "datum.value % 25 === 0", "value": [2.8, 9.5]}, "value": [1.3, 2.7]},
                          "gridWidth": {"condition": {"test": "datum.value % 25 === 0", "value": 2.8}, "value": 1.3},
                          "gridOpacity": {"condition": {"test": "datum.value % 25 === 0", "value": 1}, "value": 0.9},
                          "zindex": 1}},
           "y2": {"field": "ry"}}},
        {"data": {"name": "sat"}, "mark": {"type": "bar", "fill": "#ff0000", "stroke": "#2b2b2b", "strokeWidth": 1, "size": 6.49, "xOffset": 3.245},
         "encoding": {"x": {"field": "m", "type": "quantitative"}, "y": {"field": "r", "type": "quantitative"}, "y2": {"datum": 0}}},
        {"data": {"name": "sat"}, "mark": {"type": "bar", "fill": "#3a9b2f", "stroke": "#2b2b2b", "strokeWidth": 1, "size": 6.49, "xOffset": 3.245},
         "encoding": {"x": {"field": "m", "type": "quantitative"}, "y": {"field": "ry", "type": "quantitative"}, "y2": {"datum": 100}}},
        {"data": {"name": "zone"}, "mark": {"type": "rect", "fill": "#fdd0a2"},
         "encoding": {"x": {"field": "start", "type": "quantitative"}, "x2": {"field": "end"}, "y": {"datum": 101, "type": "quantitative"}, "y2": {"datum": 105}}},
        {"data": {"values": [{"mile": 98.3}, {"mile": 98.8}]}, "mark": {"type": "rule", "color": "#000000", "strokeWidth": 2},
         "encoding": {"x": {"field": "mile", "type": "quantitative"}, "y": {"datum": 0, "type": "quantitative"}, "y2": {"datum": 105}}}
      ]
    },
    {
      "title": {"text": "c:Sunday 2024-09-22"},
      "width": 1044, "height": 245,
      "layer": [
        {"data": {"name": "sun"}, "mark": {"type": "bar", "fill": "#ffff00", "stroke": "#2b2b2b", "strokeWidth": 1, "size": 6.49, "xOffset": 3.245},
         "encoding": {
           "x": {"field": "m", "type": "quantitative",
                 "scale": {"domain": [91.95, 108.05], "nice": false, "zero": false},
                 "axis": {"title": "I-70 E Mile Marker", "values": [92,93,94,95,96,97,98,99,100,101,102,103,104,105,106,107,108], "format": "d", "labelFlush": false, "labelOverlap": false, "grid": false}},
           "y": {"field": "r", "type": "quantitative",
                 "scale": {"domain": [0, 105], "nice": false},
                 "axis": {"title": "%", "values": [0,10,20,25,30,40,50,60,70,75,80,90,100],
                          "labelExpr": "datum.value % 25 === 0 ? datum.value + '%' : ''",
                          "tickOpacity": {"condition": {"test": "datum.value % 25 === 0", "value": 1}, "value": 0},
                          "grid": true, "gridColor": "#ffffff",
                          "gridDash": {"condition": {"test": "datum.value % 25 === 0", "value": [2.8, 9.5]}, "value": [1.3, 2.7]},
                          "gridWidth": {"condition": {"test": "datum.value % 25 === 0", "value": 2.8}, "value": 1.3},
                          "gridOpacity": {"condition": {"test": "datum.value % 25 === 0", "value": 1}, "value": 0.9},
                          "zindex": 1}},
           "y2": {"field": "ry"}}},
        {"data": {"name": "sun"}, "mark": {"type": "bar", "fill": "#ff0000", "stroke": "#2b2b2b", "strokeWidth": 1, "size": 6.49, "xOffset": 3.245},
         "encoding": {"x": {"field": "m", "type": "quantitative"}, "y": {"field": "r", "type": "quantitative"}, "y2": {"datum": 0}}},
        {"data": {"name": "sun"}, "mark": {"type": "bar", "fill": "#3a9b2f", "stroke": "#2b2b2b", "strokeWidth": 1, "size": 6.49, "xOffset": 3.245},
         "encoding": {"x": {"field": "m", "type": "quantitative"}, "y": {"field": "ry", "type": "quantitative"}, "y2": {"datum": 100}}},
        {"data": {"name": "zone"}, "mark": {"type": "rect", "fill": "#fdd0a2"},
         "encoding": {"x": {"field": "start", "type": "quantitative"}, "x2": {"field": "end"}, "y": {"datum": 101, "type": "quantitative"}, "y2": {"datum": 105}}},
        {"data": {"values": [{"mile": 98.3}, {"mile": 98.8}]}, "mark": {"type": "rule", "color": "#000000", "strokeWidth": 2},
         "encoding": {"x": {"field": "mile", "type": "quantitative"}, "y": {"datum": 0, "type": "quantitative"}, "y2": {"datum": 105}}}
      ]
    },
    {
      "title": {"text": "d:Monday 2024-09-23"},
      "width": 1044, "height": 245,
      "layer": [
        {"data": {"name": "mon"}, "mark": {"type": "bar", "fill": "#ffff00", "stroke": "#2b2b2b", "strokeWidth": 1, "size": 6.49, "xOffset": 3.245},
         "encoding": {
           "x": {"field": "m", "type": "quantitative",
                 "scale": {"domain": [91.95, 108.05], "nice": false, "zero": false},
                 "axis": {"title": "I-70 E Mile Marker", "values": [92,93,94,95,96,97,98,99,100,101,102,103,104,105,106,107,108], "format": "d", "labelFlush": false, "labelOverlap": false, "grid": false}},
           "y": {"field": "r", "type": "quantitative",
                 "scale": {"domain": [0, 105], "nice": false},
                 "axis": {"title": "%", "values": [0,10,20,25,30,40,50,60,70,75,80,90,100],
                          "labelExpr": "datum.value % 25 === 0 ? datum.value + '%' : ''",
                          "tickOpacity": {"condition": {"test": "datum.value % 25 === 0", "value": 1}, "value": 0},
                          "grid": true, "gridColor": "#ffffff",
                          "gridDash": {"condition": {"test": "datum.value % 25 === 0", "value": [2.8, 9.5]}, "value": [1.3, 2.7]},
                          "gridWidth": {"condition": {"test": "datum.value % 25 === 0", "value": 2.8}, "value": 1.3},
                          "gridOpacity": {"condition": {"test": "datum.value % 25 === 0", "value": 1}, "value": 0.9},
                          "zindex": 1}},
           "y2": {"field": "ry"}}},
        {"data": {"name": "mon"}, "mark": {"type": "bar", "fill": "#ff0000", "stroke": "#2b2b2b", "strokeWidth": 1, "size": 6.49, "xOffset": 3.245},
         "encoding": {"x": {"field": "m", "type": "quantitative"}, "y": {"field": "r", "type": "quantitative"}, "y2": {"datum": 0}}},
        {"data": {"name": "mon"}, "mark": {"type": "bar", "fill": "#3a9b2f", "stroke": "#2b2b2b", "strokeWidth": 1, "size": 6.49, "xOffset": 3.245},
         "encoding": {"x": {"field": "m", "type": "quantitative"}, "y": {"field": "ry", "type": "quantitative"}, "y2": {"datum": 100}}},
        {"data": {"name": "zone"}, "mark": {"type": "rect", "fill": "#fdd0a2"},
         "encoding": {"x": {"field": "start", "type": "quantitative"}, "x2": {"field": "end"}, "y": {"datum": 101, "type": "quantitative"}, "y2": {"datum": 105}}},
        {"data": {"values": [{"mile": 98.3}, {"mile": 98.8}]}, "mark": {"type": "rule", "color": "#000000", "strokeWidth": 2},
         "encoding": {"x": {"field": "mile", "type": "quantitative"}, "y": {"datum": 0, "type": "quantitative"}, "y2": {"datum": 105}}},
        {"data": {"values": [{"mile": 99.8}]}, "mark": {"type": "rule", "color": "#000000", "strokeWidth": 4.5},
         "encoding": {"x": {"field": "mile", "type": "quantitative"}, "y": {"datum": 0, "type": "quantitative"}, "y2": {"datum": 105}}}
      ]
    }
  ]
}
